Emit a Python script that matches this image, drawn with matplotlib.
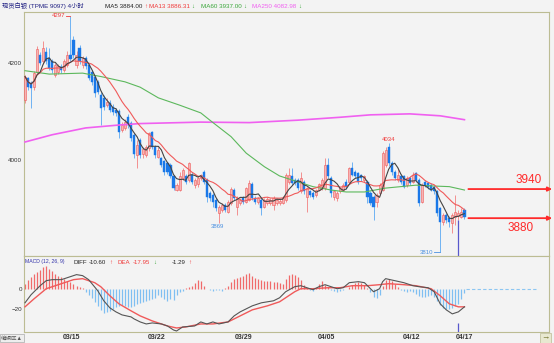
import numpy as np
import pandas as pd
import matplotlib
matplotlib.use("Agg")
import matplotlib.pyplot as plt

plt.rcParams['font.family'] = ['Liberation Sans', 'Noto Sans CJK SC', 'DejaVu Sans']

# 4-hour bars, spot silver
opens = [4124, 4169, 4158, 4150, 4182, 4216, 4203, 4222, 4210, 4203,
         4175, 4182, 4192, 4186, 4196, 4216, 4247, 4196, 4231, 4196,
         4210, 4196, 4182, 4172, 4161, 4134, 4128, 4114, 4117, 4110,
         4103, 4100, 4062, 4066, 4089, 4076, 4052, 4010, 4041, 4012,
         4010, 4024, 4058, 4027, 4007, 4003, 3998, 3993, 3990, 3966,
         3938, 3938, 3962, 3966, 3959, 3969, 3948, 3950, 3962, 3976,
         3959, 3931, 3928, 3918, 3890, 3897, 3907, 3893, 3911, 3938,
         3904, 3911, 3921, 3914, 3918, 3950, 3921, 3914, 3918, 3904,
         3912, 3911, 3907, 3911, 3911, 3912, 3918, 3955, 3966, 3959,
         3958, 3935, 3955, 3924, 3935, 3931, 3928, 3938, 3942, 3942,
         3990, 3962, 3924, 3921, 3935, 3938, 3955, 3955, 3983, 3976,
         3973, 3969, 3959, 3955, 3931, 3924, 3914, 3931, 3938, 3990,
         4027, 3993, 3976, 3959, 3966, 3966, 3948, 3962, 3955, 3973,
         3959, 3914, 3955, 3952, 3948, 3945, 3935, 3900, 3873, 3887,
         3880, 3870, 3883, 3885, 3883, 3897]
highs = [4176, 4172, 4162, 4184, 4234, 4222, 4245, 4232, 4231, 4208,
         4200, 4198, 4198, 4208, 4224, 4297, 4255, 4225, 4236, 4215,
         4214, 4200, 4186, 4176, 4165, 4140, 4134, 4128, 4124, 4116,
         4107, 4105, 4078, 4084, 4094, 4080, 4056, 4041, 4045, 4026,
         4030, 4058, 4060, 4030, 4026, 4007, 4000, 3996, 3993, 3969,
         3952, 3976, 3983, 3972, 3996, 3975, 3962, 3966, 3972, 3979,
         3962, 3935, 3931, 3921, 3908, 3911, 3911, 3918, 3945, 3942,
         3925, 3922, 3925, 3945, 3958, 3955, 3925, 3924, 3922, 3922,
         3924, 3922, 3925, 3921, 3920, 3925, 3973, 3983, 3983, 3962,
         3962, 3976, 3959, 3945, 3938, 3935, 3941, 3953, 3962, 4003,
         4003, 3966, 3938, 3935, 3945, 3952, 3960, 3986, 3996, 3980,
         3976, 3972, 3970, 3959, 3935, 3928, 3932, 3952, 4018, 4026,
         4034, 3998, 3980, 3983, 3970, 3969, 3966, 3966, 3975, 3976,
         3962, 3952, 3958, 3955, 3952, 3948, 3938, 3904, 3890, 3890,
         3884, 3890, 3928, 3897, 3900, 3900]
lows = [4118, 4145, 4107, 4145, 4178, 4195, 4198, 4198, 4186, 4180,
        4170, 4178, 4180, 4182, 4192, 4203, 4210, 4190, 4198, 4190,
        4188, 4165, 4155, 4130, 4135, 4072, 4103, 4110, 4098, 4092,
        4090, 4045, 4058, 4062, 4066, 4040, 4005, 3983, 4005, 4005,
        4006, 4018, 4022, 4005, 4003, 3985, 3969, 3972, 3962, 3938,
        3935, 3935, 3958, 3950, 3955, 3950, 3942, 3945, 3958, 3950,
        3914, 3915, 3904, 3895, 3869, 3893, 3893, 3890, 3907, 3918,
        3887, 3907, 3910, 3911, 3915, 3918, 3910, 3910, 3887, 3900,
        3908, 3907, 3897, 3907, 3908, 3909, 3914, 3950, 3948, 3948,
        3938, 3931, 3930, 3893, 3924, 3920, 3924, 3935, 3938, 3938,
        3962, 3924, 3918, 3916, 3931, 3935, 3940, 3952, 3966, 3962,
        3950, 3957, 3955, 3911, 3907, 3876, 3904, 3928, 3935, 3985,
        3988, 3970, 3959, 3955, 3950, 3942, 3945, 3948, 3952, 3955,
        3905, 3911, 3944, 3940, 3935, 3930, 3885, 3810, 3866, 3870,
        3862, 3850, 3866, 3876, 3880, 3878]
closes = [4172, 4150, 4148, 4180, 4228, 4200, 4231, 4203, 4190, 4186,
          4196, 4193, 4186, 4203, 4216, 4208, 4216, 4216, 4203, 4210,
          4193, 4169, 4161, 4138, 4141, 4107, 4110, 4120, 4103, 4098,
          4097, 4058, 4072, 4079, 4072, 4045, 4012, 4030, 4010, 4022,
          4027, 4055, 4027, 4010, 4021, 3990, 3976, 3976, 3966, 3942,
          3948, 3966, 3979, 3955, 3993, 3955, 3959, 3962, 3969, 3955,
          3924, 3921, 3914, 3900, 3904, 3907, 3897, 3914, 3940, 3921,
          3921, 3918, 3914, 3942, 3952, 3921, 3914, 3921, 3900, 3918,
          3920, 3918, 3921, 3918, 3916, 3922, 3969, 3969, 3952, 3952,
          3942, 3962, 3935, 3942, 3928, 3924, 3938, 3950, 3959, 3990,
          3966, 3931, 3935, 3931, 3942, 3948, 3945, 3983, 3969, 3966,
          3955, 3962, 3966, 3924, 3911, 3904, 3928, 3948, 4014, 4021,
          3993, 3976, 3962, 3969, 3955, 3945, 3962, 3952, 3969, 3959,
          3911, 3948, 3948, 3945, 3938, 3935, 3890, 3873, 3887, 3876,
          3873, 3887, 3893, 3890, 3893, 3883]

# long moving averages (index, value)
ma60_idx = [0, 8, 19, 25, 33, 38, 44, 51, 58, 61, 68, 73, 79, 84, 90, 95,
            101, 106, 112, 119, 129, 136, 140, 145]
ma60_val = [4184, 4177, 4179, 4172, 4161, 4150, 4128, 4113, 4097, 4082, 4048,
            4014, 3986, 3967, 3955, 3945, 3938, 3934, 3934, 3942, 3948, 3946,
            3945, 3938]
ma250_idx = [0, 9, 20, 31, 38, 58, 74, 90, 104, 114, 127, 137, 145]
ma250_val = [4037, 4052, 4066, 4072, 4075, 4078, 4077, 4082, 4088, 4093, 4095,
             4091, 4083]

# MACD(12, 26, 9)
hist = [5, 9, 12, 15, 17, 19, 22, 23, 20, 18, 15, 13, 12, 10, 8, 7, 5, 3, 2, 1,
        -3, -6, -9, -13, -17, -21, -24, -23, -22, -20, -18, -17, -16, -17, -18,
        -18, -17, -15, -14, -13, -12, -11, -10, -9, -6, -8, -10, -12, -10, -11,
        -6, -3, -2, 1, 2, 3, 6, 9, 8, 3, 0, -1, -2, -1, -1, -2, 1, 3, 7, 10,
        11, 12, 13, 15, 16, 13, 11, 10, 9, 8, 8, 8, 7, 7, 6, 5, 10, 14, 15, 14,
        12, 9, 4, 1, -1, -2, 1, 5, 8, 4, 2, -1, -2, -3, -2, -1, 0, 2, 4, 6,
        7, 6, 4, 1, -3, -8, -9, -6, 3, 9, 10, 8, 5, 2, -1, -2, -3, -2, -3, -5,
        -7, -8, -8, -7, -6, -8, -12, -16, -19, -20, -20, -19, -17, -15, -10, -4]
diff_idx = [0, 2, 5, 7, 9, 12, 15, 17, 19, 21, 24, 26, 28, 30, 32, 35, 36, 38,
            40, 42, 45, 47, 49, 50, 52, 56, 58, 60, 62, 64, 67, 69, 71, 73, 75,
            78, 80, 82, 84, 86, 89, 91, 93, 95, 97, 99, 101, 103, 105, 107, 110,
            112, 114, 115, 117, 118, 119, 122, 125, 128, 130, 133, 135, 137,
            139, 141, 143, 145]
diff_val = [-14, -6, 3, 8, 9, 9, 12, 14, 13, 9, -2, -12, -19, -23, -26, -28,
            -30, -33, -35, -34, -35, -37, -41, -42, -38, -37, -33, -35, -33,
            -35, -33, -27, -23, -20, -17, -14, -13, -12, -9, -3, 2, 3, 1, -1, 2,
            4, 2, 0, 1, 6, 7, 6, 0, -3, 0, 7, 10, 8, 6, 3, 2, 1, -3, -15, -21,
            -25, -23, -18]
dea_idx = [0, 3, 7, 12, 16, 19, 23, 25, 28, 31, 35, 38, 42, 47, 50, 53, 58, 62,
           67, 71, 75, 80, 84, 89, 91, 95, 100, 104, 108, 113, 117, 120, 125,
           129, 134, 137, 140, 143, 145]
dea_val = [-18, -10, 0, 5, 9, 10, 6, 2, -7, -15, -22, -27, -32, -37, -39, -38,
           -35, -35, -33, -27, -21, -17, -13, -3, 0, 0, 1, 1, 3, 3, 4, 5, 4, 3,
           0, -7, -15, -18, -18]

date_pos = [15.5, 43.5, 72, 99.5, 127.5, 145]
date_labels = ['03/15', '03/22', '03/29', '04/05', '04/12', '04/17']
levels = [3940, 3880]

bg = '#f3f3f3'
frame = '#bcbc93'
red = '#f03a3a'
green = '#3aa63a'
magenta = '#f060f0'
dark = '#222222'

W, H = 554, 343


def box(x0, y0, x1, y1):
    return [x0 / W, 1 - y1 / H, (x1 - x0) / W, (y1 - y0) / H]


fig = plt.figure(figsize=(W / 100, H / 100), dpi=100, facecolor=bg)
ax = fig.add_axes(box(24, 12, 549, 256))
ax2 = fig.add_axes(box(24, 256, 549, 332))

o, h, l, c = (np.array(v, dtype=float) for v in (opens, highs, lows, closes))
idx = np.arange(len(c))
up = c >= o

# candles
ax.vlines(idx[up], l[up], h[up], color='#f28080', lw=0.6, zorder=2)
ax.vlines(idx[~up], l[~up], h[~up], color='#5aa8f2', lw=0.6, zorder=2)
ax.bar(idx[up], np.maximum(c - o, 1)[up], bottom=o[up], width=0.7,
       color='#f7b4b4', edgecolor='#ee5a5a', lw=0.4, zorder=3)
ax.bar(idx[~up], (o - c)[~up], bottom=c[~up], width=0.7,
       color='#1a78e8', edgecolor='#1a78e8', lw=0.3, zorder=3)

# moving averages
s = pd.Series(c)
ma5 = s.rolling(5, min_periods=1).mean()
ma13 = s.rolling(13, min_periods=1).mean()
ax.plot(ma250_idx, ma250_val, color=magenta, lw=1.2, zorder=4)
ax.plot(ma60_idx, ma60_val, color='#5cb85c', lw=0.8, zorder=4)
ax.plot(idx, ma13, color='#f05a5a', lw=0.8, zorder=4)
ax.plot(idx, ma5, color='#444444', lw=0.8, zorder=5)

# extreme value labels
i_hi = int(np.argmax(h))
ax.plot([i_hi - 1.6, i_hi], [h[i_hi]] * 2, color=red, lw=0.6)
ax.text(i_hi - 1.8, h[i_hi], f'{h[i_hi]:.0f}', color=red, fontsize=4.3,
        ha='right', va='center')
i_lo = int(np.argmin(l))
ax.plot([i_lo - 2.2, i_lo], [l[i_lo]] * 2, color='#4a90e0', lw=0.6)
ax.text(i_lo - 2.4, l[i_lo], f'{l[i_lo]:.0f}', color='#4a90e0', fontsize=4.3,
        ha='right', va='center')
i_lo2 = 40 + int(np.argmin(l[40:100]))
ax.text(i_lo2 - 0.5, l[i_lo2] - 2, f'{l[i_lo2]:.0f}', color='#4a90e0',
        fontsize=4.3, ha='center', va='top')
i_hi2 = 100 + int(np.argmax(h[100:]))
ax.text(i_hi2, h[i_hi2] + 3, f'{h[i_hi2]:.0f}', color=red, fontsize=4.3,
        ha='center', va='bottom')

# cursor
i_cur = 143
ax.vlines(i_cur, 3700, l[i_cur], color='#5858cc', lw=0.9, zorder=6)
ax2.vlines(i_cur, -50, -34, color='#5858cc', lw=0.9, zorder=6)

# key levels
n = len(c)
for lv, tx, dy, va in [(levels[0], 166.3, 2, 'bottom'), (levels[1], 163.4, -3, 'top')]:
    ax.annotate('', xy=(1.006, lv), xycoords=ax.get_yaxis_transform(),
                xytext=(n + 0.3, lv), textcoords='data',
                arrowprops=dict(arrowstyle='-|>', color='#ff2a2a', lw=1.3,
                                mutation_scale=6, shrinkA=0, shrinkB=0),
                annotation_clip=False, zorder=7)
    ax.annotate(str(lv), xy=(tx, lv), xytext=(0, dy), textcoords='offset points',
                color='#ff2a2a', fontsize=8.5, ha='center', va=va)

# MACD panel
hcol = ['#f06a6a' if v > 0 else '#7fbff2' for v in hist]
ax2.vlines(idx, 0, hist, colors=hcol, lw=0.9, zorder=2)
ax2.hlines(0, n - 0.5, 169, colors='#8cc6f2', lw=0.8, linestyles=(0, (3, 2)))
ax2.plot(dea_idx, dea_val, color='#f05a5a', lw=1.0, zorder=3)
ax2.plot(diff_idx, diff_val, color='#555555', lw=0.8, zorder=4)

xlim = (-0.33, 172.9)
ax.set_xlim(*xlim)
ax2.set_xlim(*xlim)
ax.set_ylim(3802, 4305)
ax2.set_ylim(-43, 32.5)

for a in (ax, ax2):
    a.set_facecolor(bg)
    for sp in a.spines.values():
        sp.set_color(frame)
        sp.set_linewidth(0.8)
    a.tick_params(length=0, labelsize=4.5, colors='#333333', pad=1.5)
ax.set_xticks([])
ax.set_yticks([4000, 4200])
ax2.set_yticks([0, -20])
ax2.set_xticks(date_pos)
ax2.set_xticklabels(date_labels, fontsize=5, fontweight='bold', color='#333333')
ax2.tick_params(axis='x', pad=1.2)

renderer = fig.canvas.get_renderer()


def row(groups, y, size, gap=2.5):
    # each group starts at a pixel x; its pieces follow one another
    for x, pieces in groups:
        for piece in pieces:
            txt, col = piece[:2]
            fs = piece[2] if len(piece) > 2 else size
            t = fig.text(x / W, 1 - y / H, txt, color=col, fontsize=fs,
                         va='center')
            x = t.get_window_extent(renderer).x1 + gap


row([(2, [('现货白银 (TPME 9097) 4小时', '#1c1c80')]),
     (105, [('MA5 3884.00', dark), ('↑', red)]),
     (149, [('MA13 3886.31', red), ('↓', green)]),
     (201, [('MA60 3937.00', green), ('↓', green)]),
     (252, [('MA250 4082.98', magenta), ('↓', green)])], 6, 4.5, gap=1.5)
row([(25, [('MACD (12, 26, 9)', '#3333aa', 3.7)]),
     (73, [('DIFF', dark), ('-10.60', dark), ('↑', red)]),
     (118, [('DEA', red), ('-17.95', red), ('↓', green)]),
     (172, [('-1.29', dark), ('↑', red)])], 262, 4.4)

fig.text(1 / W, 1 - 338 / H, '编辑区▲', fontsize=4, color='#555555', va='center',
         bbox=dict(boxstyle='square,pad=0.25', fc='#eeeeee', ec='#aaaaaa', lw=0.5))
fig.text(541 / W, 1 - 338 / H, '→', fontsize=6, fontweight='bold', color='#6b6b20',
         va='center', bbox=dict(boxstyle='square,pad=0.15', fc='#e8e8d0', ec=frame, lw=0.5))

fig.savefig('out.png', dpi=100, facecolor=bg)
